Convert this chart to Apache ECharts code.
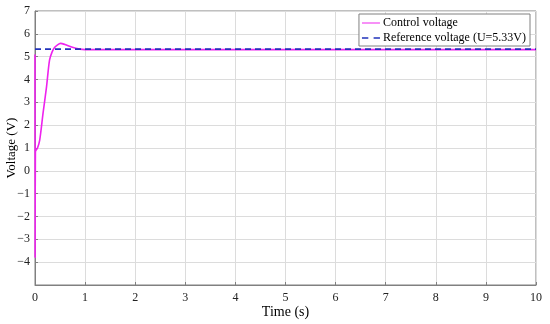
<!DOCTYPE html>
<html>
<head>
<meta charset="utf-8">
<script src="https://cdn.jsdelivr.net/npm/echarts@6/dist/echarts.min.js"></script>
<style>
  html, body { margin: 0; padding: 0; background: #fff; }
  #canvas { width: 550px; height: 324px; }
</style>
</head>
<body>
<div id="canvas"></div>
<script>
// control voltage (time s, voltage V)
var controlTime = [0, 0.002, 0.008, 0.05, 0.094, 0.16, 0.23, 0.29, 0.34, 0.39, 0.45, 0.51, 0.6, 0.73, 0.89, 1.0, 2, 4, 6, 8, 10];
var controlVolt = [5.1, -3.8, 0.84, 1.0, 1.35, 2.52, 3.68, 4.85, 5.2, 5.4, 5.52, 5.58, 5.53, 5.42, 5.33, 5.31, 5.31, 5.31, 5.31, 5.31, 5.31];
// reference voltage
var refTime = [0, 10];
var refVolt = [5.33, 5.33];
var xTicks = [0, 1, 2, 3, 4, 5, 6, 7, 8, 9, 10];
var yTicks = [-5, -4, -3, -2, -1, 0, 1, 2, 3, 4, 5, 6, 7];

function pairs(xs, ys) {
    var out = [];
    for (var i = 0; i < xs.length; i++) {
        out.push([xs[i], ys[i]]);
    }
    return out;
}

var font = 'Liberation Serif';
var chart = echarts.init(document.getElementById('canvas'), null, {renderer: 'canvas'});
chart.setOption({
    animation: false,
    backgroundColor: '#fff',
    textStyle: { fontFamily: font },
    grid: {
        left: 35, right: 14, top: 11, bottom: 39,
        containLabel: false,
        outerBoundsMode: 'none',
        show: true,
        borderColor: '#808080',
        borderWidth: 1
    },
    legend: {
        orient: 'vertical',
        right: 20,
        top: 14,
        backgroundColor: '#fff',
        borderColor: '#808080',
        borderWidth: 1,
        borderRadius: 0,
        padding: [3, 4, 2, 3],
        itemGap: 3,
        itemWidth: 18,
        itemHeight: 10,
        textStyle: { fontFamily: font, fontSize: 12, color: '#000', padding: [0, 0, 0, -2] },
        data: [
            { name: 'Control voltage', icon: 'path://M0,4.5H18V5.5H0Z' },
            { name: 'Reference voltage (U=5.33V)', icon: 'path://M0,4.2H6V5.8H0ZM11,4.2H17V5.8H11Z' }
        ]
    },
    xAxis: {
        type: 'value',
        min: 0, max: 10, interval: 1,
        name: 'Time (s)',
        nameLocation: 'middle',
        nameGap: 20,
        nameMoveOverlap: false,
        nameTextStyle: { fontFamily: font, fontSize: 14, color: '#000' },
        axisLine: { onZero: false, lineStyle: { color: '#808080' } },
        axisTick: { inside: true, length: 3, lineStyle: { color: '#808080' } },
        axisLabel: { fontFamily: font, fontSize: 12, color: '#222', margin: 7 },
        splitLine: { show: true, lineStyle: { color: '#dcdcdc' } }
    },
    yAxis: {
        type: 'value',
        min: -5, max: 7, interval: 1,
        name: 'Voltage (V)',
        nameLocation: 'middle',
        nameGap: 17,
        nameMoveOverlap: false,
        nameTextStyle: { fontFamily: font, fontSize: 13, color: '#000' },
        axisLine: { show: true, onZero: false, lineStyle: { color: '#808080' } },
        axisTick: { show: true, inside: true, length: 3, lineStyle: { color: '#808080' } },
        axisLabel: {
            fontFamily: font, fontSize: 12, color: '#222', margin: 5,
            formatter: function (v) {
                if (v === yTicks[0]) return '';
                return v < 0 ? '\u2212' + Math.abs(v) : String(v);
            }
        },
        splitLine: { show: true, lineStyle: { color: '#dcdcdc' } }
    },
    series: [
        {
            name: 'Control voltage',
            type: 'line',
            data: pairs(controlTime, controlVolt),
            smooth: 0.3,
            showSymbol: false,
            lineStyle: { color: '#ee22ee', width: 1.6 },
            itemStyle: { color: '#ee22ee' },
            z: 2
        },
        {
            name: 'Reference voltage (U=5.33V)',
            type: 'line',
            data: pairs(refTime, refVolt),
            showSymbol: false,
            lineStyle: { color: '#2233bb', width: 1.6, type: [6, 4] },
            itemStyle: { color: '#2233bb' },
            z: 3
        }
    ]
});
</script>
</body>
</html>
